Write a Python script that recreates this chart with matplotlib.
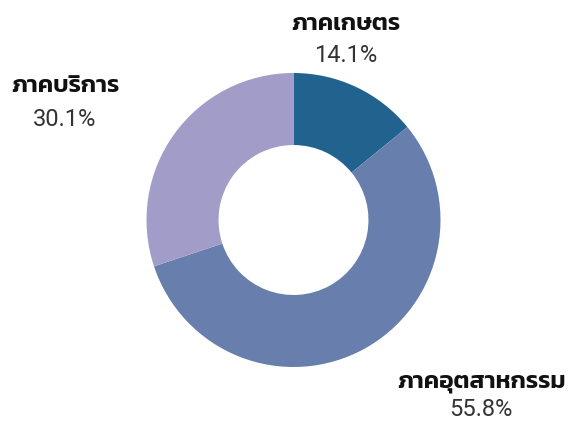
import matplotlib
matplotlib.use("Agg")
import matplotlib.pyplot as plt

sectors = ["ภาคเกษตร", "ภาคอุตสาหกรรม", "ภาคบริการ"]
shares = [14.1, 55.8, 30.1]
colors = ["#21638e", "#687fad", "#a19dc8"]

thai_family = ["Kanit", "Prompt", "Noto Sans Thai", "DejaVu Sans"]
num_family = ["Roboto", "Liberation Sans", "DejaVu Sans"]

W, H = 573, 430
fig = plt.figure(figsize=(W / 100, H / 100), dpi=100)

# donut: centre (293, 220) px, outer radius 147 px
cx, cy, r = 293.5, 220, 147
ax = fig.add_axes([(cx - r) / W, 1 - (cy + r) / H, 2 * r / W, 2 * r / H])
ax.pie(shares, colors=colors, startangle=90, counterclock=False, radius=1,
       wedgeprops=dict(width=0.49, linewidth=0))
ax.set_xlim(-1, 1)
ax.set_ylim(-1, 1)
ax.set_aspect("auto")
ax.axis("off")

# label centres in px: x, name y, value y
label_pos = [(346, 22, 55), (481, 379, 409), (65, 84, 119)]
for name, val, (x, y1, y2) in zip(sectors, shares, label_pos):
    fig.text(x / W, 1 - y1 / H, name, ha="center", va="center_baseline",
             fontsize=17.5, fontweight=600, family=thai_family, color="#111111")
    fig.text(x / W, 1 - y2 / H, f"{val}%", ha="center", va="center",
             fontsize=17, fontweight="normal", family=num_family, color="#333333")

fig.savefig("out.png", dpi=100)
